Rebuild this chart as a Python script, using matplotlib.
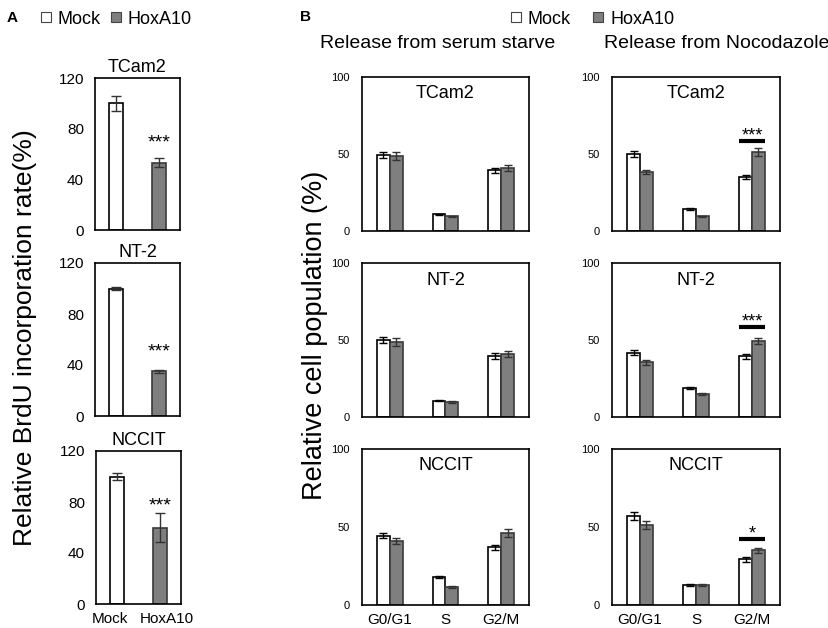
import matplotlib
matplotlib.use("Agg")
import matplotlib.pyplot as plt
from matplotlib.lines import Line2D
import numpy as np

plt.rcParams['font.family'] = ['Liberation Sans', 'DejaVu Sans']

# ---------------- data ----------------
a_cells = ['TCam2', 'NT-2', 'NCCIT']
a_groups = ['Mock', 'HoxA10']
a_mock = [100, 100, 100]
a_mock_err = [6, 1.5, 2.4]
a_hox = [53, 35, 60]
a_hox_err = [3.5, 1.0, 11]
a_star = ['***', '***', '***']
a_star_y = [69, 50, 77]
a_yticks = [0, 40, 80, 120]

phases = ['G0/G1', 'S', 'G2/M']
b_cells = ['TCam2', 'NT-2', 'NCCIT']
serum_mock = [[49.6, 10.8, 39.4], [49.8, 10.6, 39.4], [44.4, 17.8, 36.9]]
serum_mock_err = [[2.0, 0.5, 1.5], [2.0, 0.5, 2.0], [1.5, 0.6, 1.5]]
serum_hox = [[48.9, 9.5, 40.9], [48.7, 9.7, 41.1], [41.0, 11.6, 46.4]]
serum_hox_err = [[2.5, 0.4, 2.0], [2.5, 0.4, 2.0], [2.0, 0.5, 2.5]]
noc_mock = [[49.8, 14.3, 35.0], [41.8, 18.6, 39.4], [56.9, 12.9, 29.2]]
noc_mock_err = [[2.0, 0.6, 1.2], [1.5, 0.7, 1.5], [2.5, 0.5, 1.5]]
noc_hox = [[38.3, 9.5, 51.1], [35.5, 14.9, 49.4], [51.3, 12.7, 35.0]]
noc_hox_err = [[1.5, 0.4, 2.5], [1.5, 0.5, 2.0], [2.5, 0.5, 1.5]]
noc_sig_idx = [2, 2, 2]
noc_sig_y = [58.2, 58.4, 42.0]
noc_sig_label = ['***', '***', '*']
b_yticks = [0, 50, 100]

WHITE = 'white'
GRAY = '#7f7f7f'
EDGE_W = 'black'
EDGE_G = '#3a3a3a'

W, H = 829, 628
fig = plt.figure(figsize=(W / 100, H / 100), dpi=100)


def rect(l, t, r, b):
    return [l / W, 1 - b / H, (r - l) / W, (b - t) / H]


def style(ax):
    for s in ax.spines.values():
        s.set_linewidth(1.2)
        s.set_color('black')
    ax.tick_params(length=0)


# ---------------- panel A ----------------
a_rects = [(95, 78, 180, 230), (95, 263, 180, 416), (96, 451, 181, 604)]
a_label_shift = [-0.18, 0.17]
wA = 0.33
for k, cell in enumerate(a_cells):
    ax = fig.add_axes(rect(*a_rects[k]))
    x = np.arange(len(a_groups))
    ax.bar(x[0], a_mock[k], wA, color=WHITE, edgecolor=EDGE_W, linewidth=1.2,
           yerr=a_mock_err[k], capsize=3.5, error_kw=dict(elinewidth=1, capthick=1, ecolor='#333333'))
    ax.bar(x[1], a_hox[k], wA, color=GRAY, edgecolor=EDGE_G, linewidth=1.2,
           yerr=a_hox_err[k], capsize=3.5, error_kw=dict(elinewidth=1, capthick=1, ecolor='#333333'))
    ax.text(x[1], a_star_y[k], a_star[k], ha='center', va='center', fontsize=14)
    ax.set_xlim(-0.5, 1.5)
    ax.set_ylim(0, 120)
    ax.set_yticks(a_yticks)
    ax.tick_params(axis='y', labelsize=11, pad=8)
    if k == 2:
        ax.set_xticks(x + np.array(a_label_shift))
        ax.set_xticklabels(a_groups, fontsize=11)
        ax.tick_params(axis='x', pad=6)
    else:
        ax.set_xticks([])
    ax.set_title(cell, fontsize=13, pad=4)
    style(ax)

fig.text(25 / W, 1 - 338 / H, 'Relative BrdU incorporation rate(%)', rotation=90,
         ha='center', va='center', fontsize=19)
fig.text(7 / W, 1 - 18 / H, 'A', fontsize=11, fontweight='bold', ha='left', va='center')

handles = [Line2D([], [], linestyle='None', marker='s', markersize=6.5,
                  markerfacecolor=WHITE, markeredgecolor='#444444', markeredgewidth=0.8),
           Line2D([], [], linestyle='None', marker='s', markersize=6.5,
                  markerfacecolor=GRAY, markeredgecolor='#444444', markeredgewidth=0.8)]
legA = fig.legend(handles, a_groups, loc='center left', bbox_to_anchor=(41 / W, 1 - 19 / H),
                  ncol=2, frameon=False, fontsize=13, handlelength=0.5,
                  handletextpad=0.4, columnspacing=0.6, borderpad=0, borderaxespad=0)

# ---------------- panel B ----------------
cols = [(362, 529), (612, 780)]
rows = [(77, 231), (263, 417), (449, 605)]
wB = 0.23
conds = [(serum_mock, serum_mock_err, serum_hox, serum_hox_err),
         (noc_mock, noc_mock_err, noc_hox, noc_hox_err)]
for c in range(2):
    mk, mke, hx, hxe = conds[c]
    for r in range(3):
        ax = fig.add_axes(rect(cols[c][0], rows[r][0], cols[c][1], rows[r][1]))
        x = np.arange(len(phases))
        ax.bar(x - wB / 2, mk[r], wB, color=WHITE, edgecolor=EDGE_W, linewidth=1.2,
               yerr=mke[r], capsize=3, error_kw=dict(elinewidth=1, capthick=1, ecolor='black'))
        ax.bar(x + wB / 2, hx[r], wB, color=GRAY, edgecolor=EDGE_G, linewidth=1.2,
               yerr=hxe[r], capsize=3, error_kw=dict(elinewidth=1, capthick=1, ecolor='#333333'))
        ax.set_xlim(-0.5, 2.5)
        ax.set_ylim(0, 100)
        ax.set_yticks(b_yticks)
        ax.tick_params(axis='y', labelsize=8, pad=9)
        ax.set_xticks(x)
        if r == 2:
            ax.set_xticklabels(phases, fontsize=11)
            ax.tick_params(axis='x', pad=6)
        else:
            ax.set_xticklabels([])
        ax.text(0.5, 1 - 17 / (rows[r][1] - rows[r][0]), b_cells[r], transform=ax.transAxes,
                ha='center', va='center', fontsize=13)
        if c == 1:
            i = noc_sig_idx[r]
            ax.plot([i - wB, i + wB], [noc_sig_y[r], noc_sig_y[r]], color='black', linewidth=3,
                    solid_capstyle='butt')
            ax.text(i, noc_sig_y[r] + 3.5, noc_sig_label[r], ha='center', va='center', fontsize=13)
        style(ax)

fig.text(315 / W, 1 - 335 / H, 'Relative cell population (%)', rotation=90,
         ha='center', va='center', fontsize=19.5)
fig.text(300 / W, 1 - 17 / H, 'B', fontsize=11, fontweight='bold', ha='left', va='center')
fig.text(438 / W, 1 - 44 / H, 'Release from serum starve', ha='center', va='center', fontsize=14)
fig.text(717 / W, 1 - 44 / H, 'Release from Nocodazole', ha='center', va='center', fontsize=14)

legB = fig.legend(handles, a_groups, loc='center left', bbox_to_anchor=(511 / W, 1 - 19 / H),
                  ncol=2, frameon=False, fontsize=13, handlelength=0.5,
                  handletextpad=0.4, columnspacing=1.3, borderpad=0, borderaxespad=0)

fig.savefig('out.png', dpi=100)
